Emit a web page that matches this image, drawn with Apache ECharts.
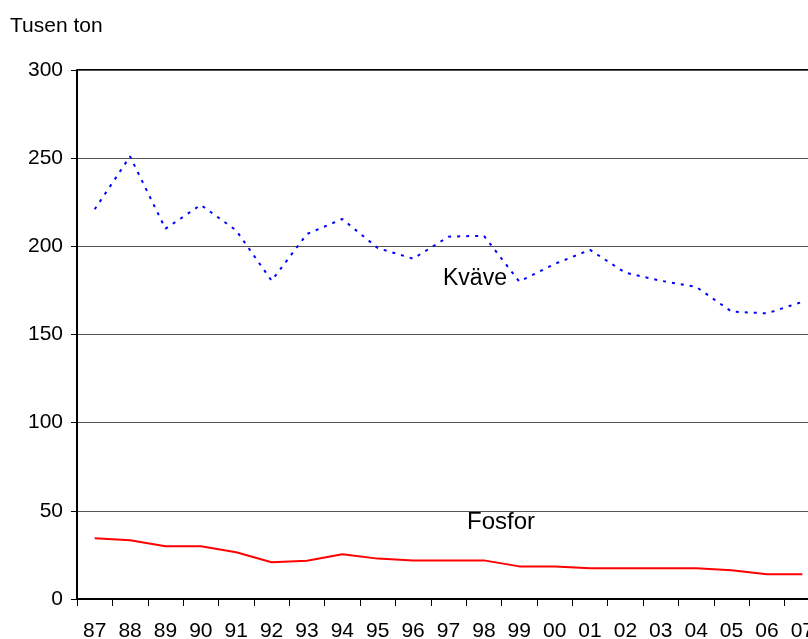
<!DOCTYPE html>
<html>
<head>
<meta charset="utf-8">
<script src="https://cdn.jsdelivr.net/npm/echarts@6/dist/echarts.min.js"></script>
<style>html,body{margin:0;padding:0;background:#fff}#c{width:808px;height:639px}</style>
</head>
<body>
<div id="c"></div>
<script>
const years = ['87','88','89','90','91','92','93','94','95','96','97','98','99','00','01','02','03','04','05','06','07'];
const kvave = [221, 251, 210, 223.5, 209, 180.5, 207, 215.5, 199, 193, 205.5, 206, 180, 190, 198, 185, 180.5, 177, 163, 162, 168.5];
const fosfor = [34.4, 33.3, 29.9, 29.9, 26.5, 20.8, 21.7, 25.4, 22.9, 21.9, 21.9, 21.9, 18.5, 18.5, 17.4, 17.4, 17.4, 17.4, 16.3, 14, 14];
const yTicks = [0, 50, 100, 150, 200, 250, 300];

const chart = echarts.init(document.getElementById('c'));
const font = '"Liberation Sans", Arial, sans-serif';
chart.setOption({
  animation: false,
  backgroundColor: '#fff',
  textStyle: { fontFamily: font },
  grid: { left: 77, top: 70, right: -12, bottom: 40, containLabel: false, outerBoundsMode: 'none' },
  xAxis: {
    type: 'category',
    data: years,
    boundaryGap: true,
    axisLine: { lineStyle: { color: '#000', width: 2 } },
    axisTick: { show: true, length: 7, inside: false, alignWithLabel: false, lineStyle: { color: '#000', width: 1 } },
    axisLabel: { color: '#000', fontSize: 21, margin: 22, fontFamily: font, interval: 0 },
    splitLine: { show: false }
  },
  yAxis: {
    type: 'value',
    min: yTicks[0], max: yTicks[yTicks.length - 1], interval: 50,
    axisLine: { show: true, lineStyle: { color: '#000', width: 2 } },
    axisTick: { show: true, length: 6, lineStyle: { color: '#000', width: 1 } },
    axisLabel: { color: '#000', fontSize: 21, margin: 14, fontFamily: font },
    splitLine: { show: true, lineStyle: { color: '#555', width: 1 } }
  },
  graphic: [
    { type: 'text', left: 10, top: 16, style: { text: 'Tusen ton', fontSize: 21, fill: '#000', fontFamily: font } },
    { type: 'text', left: 443, top: 267, style: { text: 'Kväve', fontSize: 23, fill: '#000', fontFamily: font } },
    { type: 'text', left: 467, top: 510, style: { text: 'Fosfor', fontSize: 24, fill: '#000', fontFamily: font } },
    { type: 'line', shape: { x1: 77, y1: 70, x2: 808, y2: 70 }, style: { stroke: '#000', lineWidth: 2 } }
  ],
  series: [
    {
      name: 'Kväve', type: 'line', data: kvave, symbol: 'none',
      lineStyle: { color: '#0000ff', width: 2, type: [3, 6] }
    },
    {
      name: 'Fosfor', type: 'line', data: fosfor, symbol: 'none',
      lineStyle: { color: '#ff0000', width: 2 }
    }
  ]
});
</script>
</body>
</html>
